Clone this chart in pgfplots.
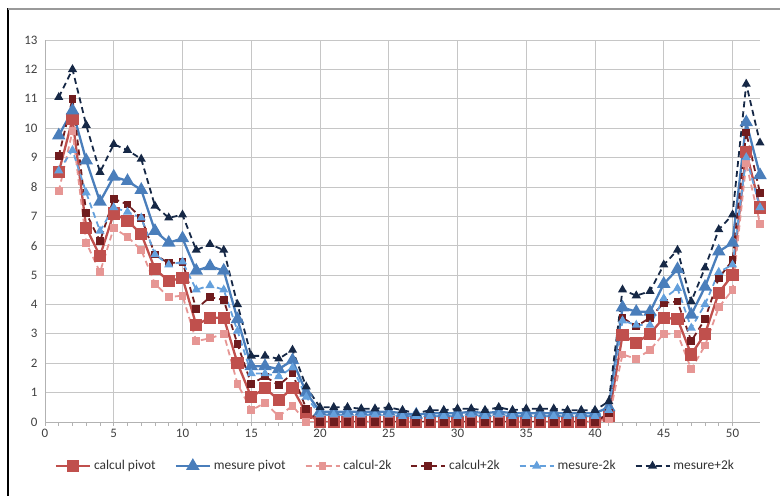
\documentclass[border=0pt]{standalone}
\usepackage{pgfplots}
\pgfplotsset{compat=1.18}
\usepackage{pgfplotstable}
\usepackage{fontspec}
\setmainfont{Carlito}

\definecolor{cpiv}{RGB}{192,80,77}
\definecolor{mpiv}{RGB}{74,126,187}
\definecolor{cmin}{RGB}{230,150,148}
\definecolor{cplu}{RGB}{112,28,30}
\definecolor{mmin}{RGB}{100,160,220}
\definecolor{mplu}{RGB}{22,40,70}

% x, calcul pivot, mesure pivot, calcul-2k, calcul+2k, mesure-2k, mesure+2k
\pgfplotstableread{
x  cp    mp    cm    cP    mm    mP
1  8.5   9.75  7.85  9.05  8.55  11.05
2  10.3  10.6  9.9   11.0  9.25  12.0
3  6.6   8.9   6.1   7.1   7.8   10.1
4  5.65  7.5   5.1   6.15  6.5   8.5
5  7.1   8.35  6.6   7.6   7.3   9.45
6  6.85  8.2   6.3   7.4   7.15  9.25
7  6.4   7.9   5.85  6.95  6.95  8.95
8  5.2   6.5   4.7   5.7   5.7   7.35
9  4.8   6.1   4.25  5.4   5.35  6.95
10 4.9   6.25  4.3   5.45  5.45  7.05
11 3.3   5.15  2.75  3.85  4.5   5.85
12 3.55  5.3   2.85  4.25  4.65  6.05
13 3.55  5.15  3.0   4.15  4.5   5.85
14 2.0   3.5   1.3   2.65  3.1   4.0
15 0.85  1.9   0.4   1.3   1.65  2.25
16 1.15  1.9   0.65  1.55  1.65  2.25
17 0.75  1.8   0.2   1.25  1.55  2.15
18 1.15  2.1   0.55  1.65  1.85  2.45
19 0.3   1.0   0.0   0.45  0.85  1.2
20 0     0.35  0     0     0.25  0.5
21 0     0.35  0     0     0.25  0.5
22 0     0.35  0     0     0.25  0.5
23 0     0.35  0     0     0.25  0.45
24 0     0.35  0     0     0.25  0.45
25 0     0.35  0     0     0.25  0.5
26 0     0.3   0     0     0.2   0.4
27 0     0.25  0     0     0.2   0.3
28 0     0.3   0     0     0.2   0.4
29 0     0.3   0     0     0.2   0.4
30 0     0.3   0     0     0.2   0.45
31 0     0.35  0     0     0.25  0.45
32 0     0.3   0     0     0.2   0.4
33 0     0.35  0     0     0.25  0.5
34 0     0.3   0     0     0.2   0.4
35 0     0.3   0     0     0.2   0.45
36 0     0.3   0     0     0.2   0.45
37 0     0.3   0     0     0.2   0.45
38 0     0.3   0     0     0.2   0.4
39 0     0.3   0     0     0.2   0.4
40 0     0.3   0     0     0.2   0.4
41 0.2   0.5   0.1   0.3   0.4   0.7
42 2.95  3.9   2.3   3.55  3.45  4.5
43 2.7   3.75  2.15  3.25  3.3   4.3
44 3.0   3.75  2.45  3.55  3.3   4.45
45 3.55  4.7   3.0   4.05  4.2   5.35
46 3.5   5.2   3.0   4.1   4.55  5.85
47 2.3   3.65  1.8   2.75  3.2   4.1
48 3.0   4.6   2.6   3.5   4.0   5.25
49 4.4   5.8   3.9   4.9   5.1   6.55
50 5.0   6.1   4.5   5.5   5.35  7.05
51 9.2   10.2  8.8   9.85  9.0   11.5
52 7.3   8.4   6.75  7.8   7.3   9.5
}\data

\begin{document}
\begin{tikzpicture}[x=1bp,y=1bp]
\useasboundingbox (0,0) rectangle (780,496);
\draw[black,line width=1.2bp] (8,0) -- (8,488);
\draw[gray!80,line width=2bp] (8,487) -- (780,487);
\begin{axis}[
  at={(45bp,74bp)}, anchor=south west,
  scale only axis, width=715bp, height=382bp,
  xmin=0, xmax=52, ymin=0, ymax=13,
  xtick={0,5,...,50}, ytick={0,1,...,13},
  minor x tick num=4,
  axis lines*=left,
  axis line style={gray!60, line width=0.8bp},
  tick align=outside,
  tick style={gray!60, line width=0.6bp},
  major tick length=4bp, minor tick length=4bp,
  ytick style={draw=none},
  grid=major,
  major grid style={gray!45, line width=0.8bp},
  tick label style={font=\fontsize{13}{15}\selectfont, text=black!75},
  /pgf/number format/assume math mode=true,
  legend columns=6,
  legend style={at={(0.49,-0.115)}, anchor=center, draw=none,
    font=\fontsize{13.5}{15}\selectfont, text=black!80,
    /tikz/every odd column/.append style={column sep=1bp},
    /tikz/every even column/.append style={column sep=17bp}},
  legend cell align=left,
  legend image code/.code={\draw[mark repeat=2,mark phase=2]
    plot coordinates {(0bp,0bp) (17bp,0bp) (34bp,0bp)};},
]
\addplot[color=cpiv, line width=2.3bp, mark=square*, mark size=5bp,
  mark options={solid}] table[x=x,y=cp]{\data};
\addlegendentry{calcul pivot}
\addplot[color=mpiv, line width=2.3bp, mark=triangle*, mark size=5.5bp,
  mark options={solid}] table[x=x,y=mp]{\data};
\addlegendentry{mesure pivot}
\addplot[color=cmin, line width=1.8bp, dash pattern=on 6bp off 4bp,
  mark=square*, mark size=3bp, mark options={solid}] table[x=x,y=cm]{\data};
\addlegendentry{calcul-2k}
\addplot[color=cplu, line width=1.8bp, dash pattern=on 6bp off 4bp,
  mark=square*, mark size=3bp, mark options={solid}] table[x=x,y=cP]{\data};
\addlegendentry{calcul+2k}
\addplot[color=mmin, line width=1.8bp, dash pattern=on 6bp off 4bp,
  mark=triangle*, mark size=3.5bp, mark options={solid}] table[x=x,y=mm]{\data};
\addlegendentry{mesure-2k}
\addplot[color=mplu, line width=1.8bp, dash pattern=on 6bp off 4bp,
  mark=triangle*, mark size=3.5bp, mark options={solid}] table[x=x,y=mP]{\data};
\addlegendentry{mesure+2k}
\end{axis}
\end{tikzpicture}
\end{document}
